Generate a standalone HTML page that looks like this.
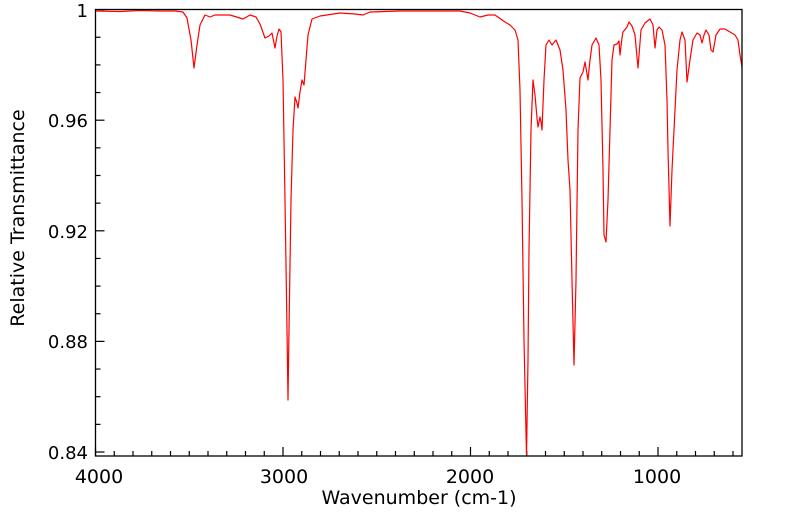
<!DOCTYPE html>
<html><head><meta charset="utf-8"><style>
html,body{margin:0;padding:0;background:#fff;width:799px;height:516px;overflow:hidden}
svg{display:block}
text{font-family:"DejaVu Sans","Liberation Sans",sans-serif;font-size:18px;fill:#000}
.xl{font-size:19px}
</style></head><body>
<svg width="799" height="516" viewBox="0 0 799 516">
<g id="ticks" stroke="#000" stroke-width="1.2">
</g>
<path fill="none" stroke="#ff0000" stroke-width="1.2" stroke-linejoin="round" d="
M96,11 L120,11.5 L140,10.5 L160,11 L175,11 L183,12 L187,18 L191,40 L194,68 L197,45 L200,25 L205,15 L210,17 L215,15 L230,15 L243,19 L250,15 L256,17 L260,24 L265,38 L269,36 L272,33 L275,48 L277,36 L279,29 L281,32 L283,80 L285,200 L287,330 L288,400 L289,330 L291,200 L293,130 L295,97 L297,103 L298,108 L300,92 L302,80 L304,85 L306,60 L308,35 L312,19 L320,16 L340,13 L355,14 L363,15 L370,12 L400,11 L430,11 L460,11 L470,13 L480,17 L488,15 L495,15 L505,22 L510,25 L515,30 L518,40 L520,90 L522,200 L524,340 L526.5,456 L528,360 L529,250 L531,130 L533,80 L535,95 L537,118 L538,127 L540,117 L541,122 L542,130 L544,80 L546,45 L549,40 L552,45 L556,40 L560,50 L563,70 L566,110 L568,160 L570,190 L572,280 L574,365 L576,280 L578,130 L580,78 L583,72 L585,62 L588,80 L590,60 L592,45 L596,38 L599,45 L601,80 L603,170 L604,235 L606,242 L608,200 L610,130 L612,60 L614,45 L617,44 L619,41 L620,55 L622,38 L623,32 L627,27 L629,22 L632,26 L635,35 L638,68 L641,30 L645,23 L650,19 L653,25 L655,48 L657,30 L659,27 L662,30 L665,45 L667,100 L668,150 L670,226 L672,170 L674,130 L677,70 L680,40 L682,32 L685,40 L687,82 L690,60 L693,40 L697,33 L700,35 L702,43 L704,35 L706,30 L709,35 L711,50 L713,52 L716,35 L720,29 L725,29 L730,32 L735,35 L738,40 L740,55 L742,67"/>
<rect x="95.5" y="9.5" width="646.5" height="446.5" fill="none" stroke="#000" stroke-width="1.3"/>
<text x="88" y="17" text-anchor="end">1</text>
<text x="88" y="127" text-anchor="end">0.96</text>
<text x="88" y="238" text-anchor="end">0.92</text>
<text x="88" y="348" text-anchor="end">0.88</text>
<text x="88" y="459" text-anchor="end">0.84</text>
<text class="xl" x="99" y="483" text-anchor="middle">4000</text>
<text class="xl" x="284" y="483" text-anchor="middle">3000</text>
<text class="xl" x="470" y="483" text-anchor="middle">2000</text>
<text class="xl" x="657" y="483" text-anchor="middle">1000</text>
<text class="xl" x="419" y="504" text-anchor="middle">Wavenumber (cm-1)</text>
<text class="xl" transform="translate(24,218) rotate(-90)" text-anchor="middle">Relative Transmittance</text>
</svg>
<script>
var g=document.getElementById('ticks'),s='';
for(var i=0;i<=16;i++){var y=452-i*27.65;var L=(i%4==0)?9:5;s+='<line x1="95.5" x2="'+(95.5+L)+'" y1="'+y+'" y2="'+y+'"/>';}
for(var w=4000;w>=550;w-=100){var x=95.5+(4000-w)*0.1875;var L=(w%1000==0)?9:5;s+='<line x1="'+x+'" x2="'+x+'" y1="456" y2="'+(456-L)+'"/>';}
g.innerHTML=s;
</script>
</body></html>
